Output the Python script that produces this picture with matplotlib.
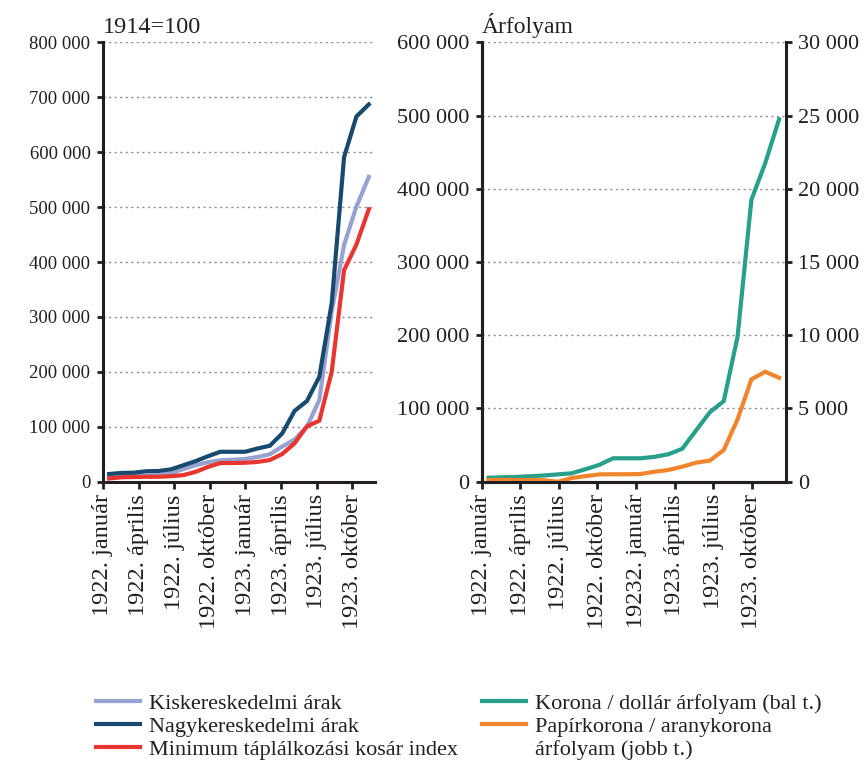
import matplotlib.pyplot as plt
import numpy as np
from matplotlib.lines import Line2D
from matplotlib.ticker import FuncFormatter

plt.rcParams['font.family'] = ['Liberation Serif', 'DejaVu Serif']

# tick labels (every third month)
labels_left = ['1922. január', '1922. április', '1922. július', '1922. október',
               '1923. január', '1923. április', '1923. július', '1923. október']
labels_right = ['1922. január', '1922. április', '1922. július', '1922. október',
                '19232. január', '1923. április', '1923. július', '1923. október']

# 1914=100 indices, monthly
kisker = [9000, 10000, 10500, 11000, 12000, 15000, 23000, 30000, 35500, 39000, 40000,
          41500, 45000, 50000, 64000, 77000, 100000, 149000, 310000, 431000, 501000, 555000]
nagyker = [14000, 16000, 16500, 19000, 19500, 22500, 30000, 37500, 46500, 54500, 54500,
           54500, 60500, 65500, 88000, 129000, 147000, 191000, 325000, 591000, 665000, 687000]
minimum = [6000, 8000, 8500, 9000, 9000, 10000, 12000, 18000, 27000, 34000, 34000,
           34500, 36000, 39500, 50500, 70000, 101000, 111000, 200000, 385000, 432000, 496000]

# exchange rates
korona_dollar = [5500, 6000, 6500, 7500, 8500, 10000, 11500, 17000, 23000, 32000, 32000,
                 32000, 34000, 37500, 45000, 70000, 95000, 110000, 198000, 385000, 435000, 495000]
papir_arany = [120, 120, 120, 120, 100, 0, 250, 380, 500, 510, 510,
               525, 683, 800, 1025, 1300, 1440, 2165, 4260, 6990, 7510, 7100]

c_kisker = '#97a2d0'
c_nagyker = '#174a6e'
c_min = '#e8352f'
c_green = '#279f8a'
c_orange = '#f0852d'
c_ink = '#231f20'

fig = plt.figure(figsize=(8.66, 7.70), dpi=100)
ax1 = fig.add_axes([0.1189, 0.3744, 0.3141, 0.5706])
ax2 = fig.add_axes([0.5562, 0.3744, 0.3514, 0.5706])
ax3 = ax2.twinx()

fmt = FuncFormatter(lambda v, p: f'{int(round(v)):,}'.replace(',', ' '))

x = np.arange(len(nagyker)) + 0.5
lw = 3

ax1.plot(x, kisker, color=c_kisker, lw=lw, solid_joinstyle='miter')
ax1.plot(x, nagyker, color=c_nagyker, lw=lw, solid_joinstyle='miter')
ax1.plot(x, minimum, color=c_min, lw=lw, solid_joinstyle='miter')
ax2.plot(x, korona_dollar, color=c_green, lw=lw, solid_joinstyle='miter')
ax3.plot(x, papir_arany, color=c_orange, lw=lw, solid_joinstyle='miter')

ax1.set_ylim(0, 800000)
ax1.set_yticks(np.arange(0, 800001, 100000))
ax2.set_ylim(0, 600000)
ax2.set_yticks(np.arange(0, 600001, 100000))
ax3.set_ylim(0, 30000)
ax3.set_yticks(np.arange(0, 30001, 5000))

for ax, ysize in ((ax1, 13.5), (ax2, 16), (ax3, 16)):
    ax.set_xlim(0, 22)
    ax.yaxis.set_major_formatter(fmt)
    ax.spines['top'].set_visible(False)
    for s in ax.spines.values():
        s.set_linewidth(2.2)
        s.set_color(c_ink)
    ax.tick_params(axis='y', length=4, width=2, pad=5, labelsize=ysize, colors=c_ink)
    ax.tick_params(axis='x', length=5, width=2, pad=4, labelsize=17.5, colors=c_ink)

ax1.spines['right'].set_visible(False)
ax2.spines['right'].set_visible(False)

for ax, step, labs in ((ax1, 2.88, labels_left), (ax2, 2.79, labels_right)):
    ax.set_xticks(np.arange(8) * step)
    ax.set_xticklabels(labs, rotation=90)
    ax.grid(axis='y', linestyle=(0, (1.5, 2.5)), color='#8a8a8a', lw=1)
    ax.set_axisbelow(True)
ax3.tick_params(axis='x', bottom=False, labelbottom=False)

ax1.text(0.0, 1.01, '1914=100', transform=ax1.transAxes, ha='left', va='bottom',
         fontsize=17.5, color=c_ink)
ax2.text(0.0, 1.01, 'Árfolyam', transform=ax2.transAxes, ha='left', va='bottom',
         fontsize=17, color=c_ink)

h_left = [Line2D([], [], color=c_kisker, lw=lw),
          Line2D([], [], color=c_nagyker, lw=lw),
          Line2D([], [], color=c_min, lw=lw)]
l_left = ['Kiskereskedelmi árak', 'Nagykereskedelmi árak', 'Minimum táplálkozási kosár index']
h_right = [Line2D([], [], color=c_green, lw=lw),
           Line2D([], [], color=c_orange, lw=lw),
           Line2D([], [], color='none', lw=lw)]
l_right = ['Korona / dollár árfolyam (bal t.)', 'Papírkorona / aranykorona', 'árfolyam (jobb t.)']

leg_kw = dict(frameon=False, fontsize=16, handlelength=2.0, handletextpad=0.4,
              labelspacing=0.12, borderpad=0, borderaxespad=0, loc='upper left')
for handles, labs, x0 in ((h_left, l_left, 96), (h_right, l_right, 482)):
    leg = fig.legend(handles, labs, bbox_to_anchor=(x0 / 866, 1 - 693 / 770), **leg_kw)
    for t in leg.get_texts():
        t.set_color(c_ink)

fig.savefig('out.png', dpi=100)
